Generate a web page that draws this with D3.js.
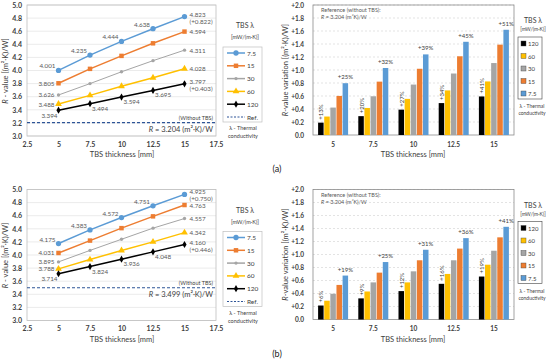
<!DOCTYPE html>
<html lang="en">
<head>
<meta charset="UTF-8">
<title>TBS R-value charts</title>
<style>
  body { margin: 0; background: #fff; }
  text { font-family: Lato, "Open Sans", sans-serif; }
</style>
</head>
<body>
<script src="https://cdn.jsdelivr.net/npm/d3@7"></script>
<script>
// ---- data ----
const thickness = [5, 7.5, 10, 12.5, 15];
const lambdas = ["7.5", "15", "30", "60", "120"];
const colors = ["#5B9BD5", "#ED7D31", "#A5A5A5", "#FFC000", "#000000"];

// (a) R-values [(m2K)/W]
const a75  = [4.001, 4.235, 4.444, 4.638, 4.823];
const a15  = [3.805, 4.025, 4.223, 4.415, 4.594];
const a30  = [3.626, 3.800, 3.980, 4.150, 4.311];
const a60  = [3.488, 3.620, 3.760, 3.890, 4.028];
const a120 = [3.394, 3.494, 3.594, 3.695, 3.797];
const refA = 3.204;
const gainA = ["(+0.822)", "(+0.403)"];
const pctBlueA  = ["+25%", "+32%", "+39%", "+45%", "+51%"];
const pctBlackA = ["+13%", "+20%", "+27%", "+34%", "+41%"];

// (b) R-values [(m2K)/W]
const b75  = [4.175, 4.383, 4.572, 4.751, 4.925];
const b15  = [4.031, 4.220, 4.410, 4.590, 4.763];
const b30  = [3.895, 4.070, 4.240, 4.410, 4.557];
const b60  = [3.788, 3.930, 4.070, 4.200, 4.342];
const b120 = [3.714, 3.824, 3.936, 4.048, 4.160];
const refB = 3.499;
const gainB = ["(+0.750)", "(+0.446)"];
const pctBlueB  = ["+19%", "+25%", "+31%", "+36%", "+41%"];
const pctBlackB = ["+6%", "+9%", "+12%", "+16%", "+19%"];

const yTicksLine = d3.range(3, 5.001, 0.2);
const xTicksLine = [2.5, 5, 7.5, 10, 12.5, 15, 17.5];
const yTicksBar = d3.range(0, 2.001, 0.2);

const svg = d3.select("body").append("svg")
    .attr("width", 550).attr("height", 364);

const symbols = [d3.symbolCircle, d3.symbolSquare, d3.symbolCircle, d3.symbolTriangle, d3.symbolDiamond];
const symSize = [22, 20, 9, 20, 15];

function yTitle(g, x, y, rest) {
    const t = g.append("text")
        .attr("transform", `translate(${x},${y}) rotate(-90)`)
        .attr("text-anchor", "middle")
        .attr("font-size", 7.5).attr("fill", "#404040");
    t.append("tspan").attr("font-style", "italic").text("R");
    t.append("tspan").text(rest);
}

function drawPanel(oy, series, ref, gain, pctBlue, pctBlack, tag) {
    const g = svg.append("g").attr("transform", `translate(0,${oy})`);

    // ---------- line chart ----------
    const x = d3.scaleLinear().domain([2.5, 17.5]).range([27, 216]);
    const y = d3.scaleLinear().domain([3, 5]).range([136, 5]);

    g.append("g").selectAll("line").data(yTicksLine).join("line")
        .attr("x1", 27).attr("x2", 216)
        .attr("y1", d => y(d)).attr("y2", d => y(d))
        .attr("stroke", "#e3e3e3").attr("stroke-width", 0.7);
    g.append("rect").attr("x", 27).attr("y", 5).attr("width", 189).attr("height", 131)
        .attr("fill", "none").attr("stroke", "#bfbfbf").attr("stroke-width", 0.8);

    const ya = g.append("g").attr("transform", "translate(27,0)")
        .call(d3.axisLeft(y).tickValues(yTicksLine).tickFormat(d3.format(".1f")).tickSize(0).tickPadding(5));
    const xa = g.append("g").attr("transform", "translate(0,136)")
        .call(d3.axisBottom(x).tickValues(xTicksLine).tickFormat(d => d).tickSize(0).tickPadding(6));
    [ya, xa].forEach(a => {
        a.select(".domain").remove();
        a.selectAll("text").attr("font-size", 7).attr("font-weight", "bold").attr("fill", "#404040")
            .attr("font-family", "Lato, sans-serif");
    });
    g.append("text").attr("x", 122).attr("y", 157).attr("text-anchor", "middle")
        .attr("font-size", 7.5).attr("fill", "#404040").text("TBS thickness [mm]");
    yTitle(g, 8, 71, " - value [(m\u00B2\u00B7K)/W]");

    // reference line
    g.append("line").attr("x1", 27).attr("x2", 216).attr("y1", y(ref)).attr("y2", y(ref))
        .attr("stroke", "#2E5597").attr("stroke-width", 1.1).attr("stroke-dasharray", "3,2");
    g.append("text").attr("x", 213).attr("y", y(ref) - 3).attr("text-anchor", "end")
        .attr("font-size", 5.5).attr("fill", "#404040").text("(Without TBS)");
    const rt = g.append("text").attr("x", 213).attr("y", y(ref) + 9).attr("text-anchor", "end")
        .attr("font-size", 7.5).attr("fill", "#404040");
    rt.append("tspan").attr("font-style", "italic").text("R");
    rt.append("tspan").text(` = ${ref.toFixed(3)} (m\u00B2\u00B7K)/W`);

    const line = d3.line().x((d, i) => x(thickness[i])).y(d => y(d));
    series.forEach((s, k) => {
        g.append("path").datum(s).attr("d", line).attr("fill", "none")
            .attr("stroke", colors[k]).attr("stroke-width", k === 2 ? 1 : 1.5);
        g.append("g").selectAll("path").data(s).join("path")
            .attr("transform", (d, i) => `translate(${x(thickness[i])},${y(d)})`)
            .attr("d", d3.symbol().type(symbols[k]).size(symSize[k]))
            .attr("fill", colors[k]);

        // data labels
        s.forEach((v, i) => {
            const px = x(thickness[i]), py = y(v);
            let tx, ty, anchor;
            if (i === 4) { tx = px + 5; ty = py; anchor = "start"; }
            else if (k === 0) { tx = px - 3; ty = py - 4.5; anchor = "end"; }
            else if (k === 4 && i === 0) { tx = px - 1; ty = py + 5; anchor = "end"; }
            else if (k === 4) { tx = px + 2; ty = py + 4.5; anchor = "start"; }
            else if (i === 0) { tx = px - 4; ty = py; anchor = "end"; }
            else return;
            const hasGain = i === 4 && (k === 0 || k === 4);
            g.append("text").attr("x", tx).attr("y", hasGain ? ty - 2.5 : ty)
                .attr("dominant-baseline", "central").attr("text-anchor", anchor)
                .attr("font-size", 6.3).attr("fill", "#595959").text(v.toFixed(3));
            if (hasGain) {
                g.append("text").attr("x", tx).attr("y", ty + 4.5)
                    .attr("dominant-baseline", "central").attr("text-anchor", anchor)
                    .attr("font-size", 6.3).attr("fill", "#595959").text(k === 0 ? gain[0] : gain[1]);
            }
        });
    });

    // line legend
    g.append("text").attr("x", 245).attr("y", 28).attr("text-anchor", "middle")
        .attr("font-size", 7).attr("fill", "#404040").text("TBS \u03BB");
    g.append("text").attr("x", 245).attr("y", 39).attr("text-anchor", "middle")
        .attr("font-size", 5.5).attr("fill", "#404040").text("[mW/(m\u00B7K)]");
    g.append("rect").attr("x", 223).attr("y", 47).attr("width", 39).attr("height", 75)
        .attr("fill", "none").attr("stroke", "#bfbfbf").attr("stroke-width", 0.7);
    const legItems = lambdas.concat(["Ref."]);
    legItems.forEach((name, k) => {
        const ly = 53 + k * 12.8;
        const isRef = k === 5;
        g.append("line").attr("x1", 227).attr("x2", 245).attr("y1", ly).attr("y2", ly)
            .attr("stroke", isRef ? "#2E5597" : colors[k]).attr("stroke-width", isRef ? 1.1 : 1.5)
            .attr("stroke-dasharray", isRef ? "2,1.5" : null);
        if (!isRef) {
            g.append("path").attr("transform", `translate(236,${ly})`)
                .attr("d", d3.symbol().type(symbols[k]).size(symSize[k])).attr("fill", colors[k]);
        }
        g.append("text").attr("x", 247).attr("y", ly).attr("dominant-baseline", "central")
            .attr("font-size", 6.5).attr("fill", "#404040").text(name);
    });
    g.append("text").attr("x", 243).attr("y", 130).attr("text-anchor", "middle")
        .attr("font-size", 5.5).attr("fill", "#404040").text("\u03BB - Thermal");
    g.append("text").attr("x", 243).attr("y", 138).attr("text-anchor", "middle")
        .attr("font-size", 5.5).attr("fill", "#404040").text("conductivity");

    // ---------- bar chart ----------
    const xb = d3.scaleBand().domain(thickness).range([313, 514]);
    const yb = d3.scaleLinear().domain([0, 2]).range([135, 5]);
    const order = [4, 3, 2, 1, 0]; // 120, 60, 30, 15, 7.5
    const xi = d3.scaleBand().domain(order).range([0, 30]).paddingInner(0.1);

    g.append("g").selectAll("line").data(yTicksBar.slice(1)).join("line")
        .attr("x1", 313).attr("x2", 514)
        .attr("y1", d => yb(d)).attr("y2", d => yb(d))
        .attr("stroke", "#d0d0d0").attr("stroke-width", 0.6).attr("stroke-dasharray", "2,2");
    g.append("rect").attr("x", 313).attr("y", 5).attr("width", 201).attr("height", 130)
        .attr("fill", "none").attr("stroke", "#8c8c8c").attr("stroke-width", 0.8);

    thickness.forEach((t, i) => {
        const gx = xb(t) + (xb.bandwidth() - 30) / 2;
        order.forEach(k => {
            const v = series[k][i] - ref;
            g.append("rect").attr("x", gx + xi(k)).attr("y", yb(v))
                .attr("width", xi.bandwidth()).attr("height", yb(0) - yb(v))
                .attr("fill", colors[k]);
        });
        const bx = gx + xi(0) + xi.bandwidth() / 2;
        g.append("text").attr("x", bx).attr("y", yb(series[0][i] - ref) - 4)
            .attr("text-anchor", "middle").attr("font-size", 6).attr("fill", "#404040").text(pctBlue[i]);
        const kx = gx + xi(4) + xi.bandwidth() / 2;
        const ky = yb(series[4][i] - ref) - 3;
        g.append("text").attr("transform", `translate(${kx},${ky}) rotate(-90)`)
            .attr("dominant-baseline", "central")
            .attr("font-size", 6).attr("fill", "#404040").text(pctBlack[i]);
    });

    const yba = g.append("g").attr("transform", "translate(313,0)")
        .call(d3.axisLeft(yb).tickValues(yTicksBar).tickSize(0).tickPadding(9)
            .tickFormat(d => d === 0 ? "0.0" : "+" + d.toFixed(1)));
    const xba = g.append("g").attr("transform", "translate(0,135)")
        .call(d3.axisBottom(xb).tickSize(0).tickPadding(7));
    [yba, xba].forEach(a => {
        a.select(".domain").remove();
        a.selectAll("text").attr("font-size", 6.5).attr("font-weight", "bold").attr("fill", "#404040")
            .attr("font-family", "Lato, sans-serif");
    });
    g.append("text").attr("x", 413).attr("y", 157).attr("text-anchor", "middle")
        .attr("font-size", 7.5).attr("fill", "#404040").text("TBS thickness [mm]");
    yTitle(g, 288, 70, "-value variation [(m\u00B2\u00B7K)/W]");

    g.append("text").attr("x", 321).attr("y", 12).attr("font-size", 5.5).attr("fill", "#595959")
        .text("Reference (without TBS):");
    const rr = g.append("text").attr("x", 321).attr("y", 19).attr("font-size", 5.5).attr("fill", "#595959");
    rr.append("tspan").attr("font-style", "italic").text("R");
    rr.append("tspan").text(" = 3.204 (m\u00B2K)/W");

    // bar legend
    g.append("text").attr("x", 533).attr("y", 23).attr("text-anchor", "middle")
        .attr("font-size", 7).attr("fill", "#404040").text("TBS \u03BB");
    g.append("text").attr("x", 533).attr("y", 31).attr("text-anchor", "middle")
        .attr("font-size", 5).attr("fill", "#404040").text("[mW/(m\u00B7K)]");
    g.append("rect").attr("x", 518).attr("y", 37).attr("width", 24).attr("height", 62)
        .attr("fill", "none").attr("stroke", "#404040").attr("stroke-width", 0.6);
    order.forEach((k, j) => {
        const ly = 43.5 + j * 12.5;
        g.append("rect").attr("x", 521).attr("y", ly - 2.5).attr("width", 5).attr("height", 5)
            .attr("fill", colors[k]).attr("stroke", "#404040").attr("stroke-width", 0.4);
        g.append("text").attr("x", 528).attr("y", ly).attr("dominant-baseline", "central")
            .attr("font-size", 6).attr("fill", "#404040").text(lambdas[k]);
    });
    g.append("text").attr("x", 532).attr("y", 108).attr("text-anchor", "middle")
        .attr("font-size", 5).attr("fill", "#404040").text("\u03BB - Thermal");
    g.append("text").attr("x", 532).attr("y", 115).attr("text-anchor", "middle")
        .attr("font-size", 5).attr("fill", "#404040").text("conductivity");

    // panel tag
    g.append("text").attr("x", 277).attr("y", 172).attr("text-anchor", "middle")
        .attr("font-size", 9).attr("fill", "#222").text(tag);
}

drawPanel(0, [a75, a15, a30, a60, a120], refA, gainA, pctBlueA, pctBlackA, "(a)");
drawPanel(184.5, [b75, b15, b30, b60, b120], refB, gainB, pctBlueB, pctBlackB, "(b)");
</script>
</body>
</html>
